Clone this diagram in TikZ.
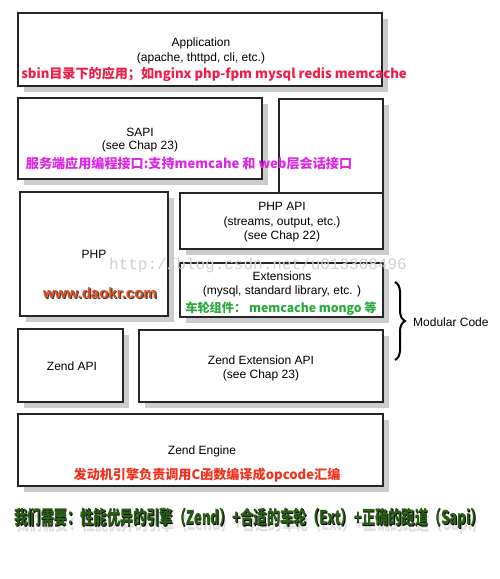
\documentclass[tikz,border=0pt]{standalone}
\usepackage{fontspec}
\setmainfont{Liberation Sans}
\newfontfamily\cjk{Noto Sans CJK SC}
\newfontfamily\wmfont{Liberation Mono}
\usetikzlibrary{
	fit,
	positioning,
	decorations.pathreplacing
}
\definecolor{appred}{RGB}{240,30,70}
\definecolor{sapimag}{RGB}{220,40,230}
\definecolor{extgreen}{RGB}{40,170,60}
\definecolor{enginered}{RGB}{240,50,30}
\definecolor{daokr}{RGB}{225,80,30}
\definecolor{needgreen}{RGB}{40,95,20}
\tikzset{
	layer/.style={draw=black!85,line width=1.6pt,fill=white,inner sep=0pt},
	boxshadow/.style={fill=black!20},
	txt/.style={font=\fontsize{12}{14}\selectfont,inner sep=0pt},
	cntxt/.style={font=\cjk\bfseries\fontsize{13.1}{16}\selectfont,inner sep=0pt},
	needtxt/.style={font=\cjk\bfseries\fontsize{19}{22}\selectfont,inner sep=0pt}
}
\newcommand{\tikzLayer}[3]{
	\fill[boxshadow] ([shift={(6,6)}]#1) rectangle ([shift={(6,6)}]#2);
	\node (#3) [layer,fit={(#1) (#2)}] {};
}
\newcommand{\needLine}{\scalebox{0.695}[1]{我们需要：性能优异的引擎（Zend）+合适的车轮（Ext）+正确的跑道（Sapi）}}

\begin{document}
\begin{tikzpicture}[x=1pt,y=-1pt]
	\useasboundingbox (0,0) rectangle (500,579);

	% layers
	\tikzLayer{18,13}{382,86}{app}
	\tikzLayer{18,98}{262,179}{sapi}
	\tikzLayer{279,99}{383,193}{side}
	\tikzLayer{180,193}{383,249}{phpapi}
	\tikzLayer{20,192}{168,316}{php}
	\tikzLayer{180,263}{383,317}{ext}
	\tikzLayer{18,329}{123,402}{zapi}
	\tikzLayer{139,330}{383,402}{zext}
	\tikzLayer{18,414}{383,486}{engine}

	\node[txt] (app-a) at (201,43) {Application};
	\node[txt] (app-b) at (201,58) {(apache, thttpd, cli, etc.)};
	\node[cntxt,text=appred] (app-c) at (214,74) {sbin目录下的应用；如nginx php-fpm mysql redis memcache};

	\node[txt] (sapi-a) at (140,132) {SAPI};
	\node[txt] (sapi-b) at (140,146) {(see Chap 23)};
	\node[cntxt,text=sapimag] (sapi-c) at (189,164) {服务端应用编程接口:支持memcahe 和 web层会话接口};

	\node[txt] (phpapi-a) at (282,206) {PHP API};
	\node[txt] (phpapi-b) at (282,222) {(streams, output, etc.)};
	\node[txt] (phpapi-c) at (282,236) {(see Chap 22)};

	\node[txt] (php-a) at (94,254) {PHP};
	\node[font=\bfseries\fontsize{15}{16}\selectfont,text=black!75,inner sep=0pt] (daokr-s) at (101.2,294.5) {www.daokr.com};
	\node[font=\bfseries\fontsize{15}{16}\selectfont,text=daokr,inner sep=0pt] (daokr-a) at (100,293) {www.daokr.com};

	\node[txt] (ext-a) at (282,276) {Extensions};
	\node[txt] (ext-b) at (282,291) {(mysql, standard library, etc. )};
	\node[cntxt,text=extgreen,font=\cjk\bfseries\fontsize{12.2}{15}\selectfont] (ext-c) at (281,309) {车轮组件： memcache mongo 等};

	\node[font=\wmfont\fontsize{16}{18}\selectfont,text=black!18,inner sep=0pt] (mark) at (258,265) {http://blog.csdn.net/u013308496};

	\coordinate (br-top) at (395,282);
	\coordinate (br-bot) at (395,360);
	\draw[line width=2pt,decorate,decoration={brace,amplitude=10pt}] (br-top) -- (br-bot);
	\node[txt,anchor=west] (modular) at (413,322) {Modular Code};

	\node[txt] (zapi-a) at (72,366) {Zend API};
	\node[txt] (zext-a) at (261,360) {Zend Extension API};
	\node[txt] (zext-b) at (261,375) {(see Chap 23)};

	\node[txt] (engine-a) at (202,451) {Zend Engine};
	\node[cntxt,text=enginered] (engine-b) at (207,475) {发动机引擎负责调用C函数编译成opcode汇编};

	% bottom line
	\node[needtxt,text=black!12] (need-s) at (251,524) {\needLine};
	\node[needtxt,text=black] (need-o) at (250,518.8) {\needLine};
	\node[needtxt,text=needgreen] (need) at (249.3,518) {\needLine};
\end{tikzpicture}
\end{document}
